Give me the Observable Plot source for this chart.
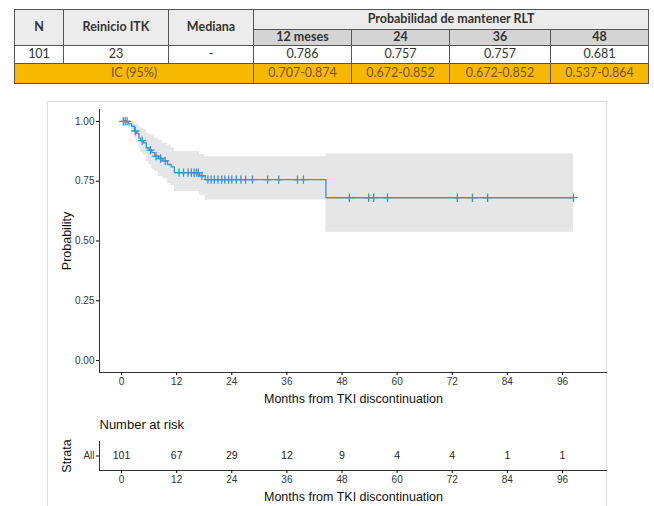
<!DOCTYPE html>
<html><head><meta charset="utf-8">
<script src="https://cdn.jsdelivr.net/npm/d3@7"></script>
<script src="https://cdn.jsdelivr.net/npm/@observablehq/plot@0.6"></script>
<style>
body{margin:0;width:654px;height:506px;position:relative;overflow:hidden;background:#fff;}
#tbl{position:absolute;left:14px;top:9px;width:634px;border-collapse:collapse;font-family:Lato,"Open Sans",sans-serif;font-size:12.5px;color:#333;table-layout:fixed;}
#tbl td{border:1px solid #555;text-align:center;padding:0;line-height:1;white-space:nowrap;}
#frame{position:absolute;left:47px;top:101px;width:560px;height:420px;border:1px solid #ddd;box-sizing:border-box;}
#main{position:absolute;left:0;top:100px;}
#risk{position:absolute;left:0;top:408px;}
svg{font-family:"Liberation Sans",Arial,sans-serif;}
g[aria-label="x-axis label"] text, g[aria-label="y-axis label"] text{font-size:12.5px;fill:#111;}
g[aria-label="x-axis tick label"] text, g[aria-label="y-axis tick label"] text{font-size:10px;fill:#333;}
</style></head>
<body>
<table id="tbl"></table>
<div id="frame"></div>
<div id="main"></div>
<div id="risk"></div>
<script>
// ---- table data ----
const headCols = ["N", "Reinicio ITK", "Mediana"];
const probTitle = "Probabilidad de mantener RLT";
const probCols = ["12 meses", "24", "36", "48"];
const rowValues = ["101", "23", "-"];
const probValues = ["0.786", "0.757", "0.757", "0.681"];
const ciLabel = "IC (95%)";
const ciValues = ["0.707-0.874", "0.672-0.852", "0.672-0.852", "0.537-0.864"];

// ---- Kaplan-Meier curve ----
const stepTime = [0, 1.5, 2.2, 2.8, 3.3, 3.8, 4.2, 4.8, 5.4, 6.0, 6.6, 7.2, 8.0, 9.0, 10.0, 10.8, 11.5, 17.0, 18.2, 44.5, 98.4];
const stepSurv = [1.0, 0.99, 0.98, 0.96, 0.95, 0.93, 0.92, 0.91, 0.89, 0.88, 0.87, 0.855, 0.845, 0.835, 0.82, 0.81, 0.786, 0.772, 0.757, 0.681, 0.681];
const stepLower = [1.0, 0.97, 0.96, 0.93, 0.91, 0.89, 0.87, 0.86, 0.83, 0.82, 0.80, 0.79, 0.77, 0.76, 0.74, 0.73, 0.707, 0.69, 0.672, 0.537, 0.537];
const stepUpper = [1.0, 1.0, 1.0, 0.99, 0.99, 0.98, 0.97, 0.965, 0.95, 0.945, 0.94, 0.93, 0.92, 0.91, 0.90, 0.89, 0.874, 0.862, 0.852, 0.864, 0.864];

const censorTime = [0.4, 0.8, 1.2, 3.0, 4.5, 6.3, 7.5, 8.5, 9.5, 12.5, 13.5, 14.5, 15.2, 15.8, 16.3, 16.7, 17.5, 18.8, 19.5, 20.2, 21.0, 21.8, 22.5, 23.3, 24.0, 25.0, 26.0, 27.0, 28.5, 31.8, 34.2, 38.3, 39.6, 49.6, 53.8, 54.9, 57.9, 73.1, 76.4, 79.7, 98.4];
const censorSurv = [1.0, 1.0, 1.0, 0.96, 0.92, 0.88, 0.855, 0.845, 0.835, 0.786, 0.786, 0.786, 0.786, 0.786, 0.786, 0.786, 0.772, 0.757, 0.757, 0.757, 0.757, 0.757, 0.757, 0.757, 0.757, 0.757, 0.757, 0.757, 0.757, 0.757, 0.757, 0.757, 0.757, 0.681, 0.681, 0.681, 0.681, 0.681, 0.681, 0.681, 0.681];

// ---- number at risk ----
const riskTime = [0, 12, 24, 36, 48, 60, 72, 84, 96];
const riskN = [101, 67, 29, 12, 9, 4, 4, 1, 1];
const xTicks = [0, 12, 24, 36, 48, 60, 72, 84, 96];
const yTicks = [0, 0.25, 0.5, 0.75, 1];

// ---- build table ----
const tbl = document.getElementById("tbl");
const colW = [49, 105, 85, 98, 98, 101, 98];
const cg = document.createElement("colgroup");
colW.forEach(w => { const c = document.createElement("col"); c.style.width = w + "px"; cg.appendChild(c); });
tbl.appendChild(cg);
function td(tr, text, opts = {}) {
  const c = document.createElement("td");
  c.textContent = text;
  if (opts.rs) c.rowSpan = opts.rs;
  if (opts.cs) c.colSpan = opts.cs;
  Object.assign(c.style, opts.style || {});
  tr.appendChild(c);
  return c;
}
const hdr = {background:"#ececec", fontWeight:"bold", color:"#333"};
let tr = document.createElement("tr"); tr.style.height = "20px";
headCols.forEach(h => td(tr, h, {rs:2, style:hdr}));
td(tr, probTitle, {cs:4, style:hdr});
tbl.appendChild(tr);
tr = document.createElement("tr"); tr.style.height = "16px";
probCols.forEach(h => td(tr, h, {style:{background:"#d4d4d4", fontWeight:"bold", color:"#333"}}));
tbl.appendChild(tr);
tr = document.createElement("tr"); tr.style.height = "18px";
rowValues.concat(probValues).forEach(v => td(tr, v, {style:{background:"#fff"}}));
tbl.appendChild(tr);
tr = document.createElement("tr"); tr.style.height = "20px";
const ciStyle = {background:"#f7b900", color:"#7a5200"};
td(tr, ciLabel, {cs:3, style:ciStyle});
ciValues.forEach(v => td(tr, v, {style:ciStyle}));
tbl.appendChild(tr);

// ---- main KM plot ----
const km = stepTime.map((t, i) => ({t, s: stepSurv[i], lo: stepLower[i], hi: stepUpper[i]}));
const cens = censorTime.map((t, i) => ({t, s: censorSurv[i]}));
const col = "#3b93cc";
const xDom = [-4.8, 105.8];

const main = Plot.plot({
  width: 654, height: 310,
  marginLeft: 99, marginRight: 47, marginTop: 9, marginBottom: 38,
  style: {background: "transparent"},
  x: {domain: xDom},
  y: {domain: [-0.05, 1.05]},
  marks: [
    Plot.areaY(km, {x: "t", y1: "lo", y2: "hi", curve: "step-after", fill: "#e6e6e6"}),
    Plot.line(km, {x: "t", y: "s", curve: "step-after", stroke: col, strokeWidth: 1.3}),
    Plot.dot(cens, {x: "t", y: "s", symbol: "plus", stroke: col, strokeWidth: 1.3, r: 2.8}),
    Plot.ruleX([xDom[0]], {stroke: "#333"}),
    Plot.ruleY([-0.05], {stroke: "#333"}),
    Plot.axisX({ticks: xTicks, tickSize: 3, tickPadding: 2, label: "Months from TKI discontinuation", labelAnchor: "center", labelArrow: "none", labelOffset: 30}),
    Plot.axisY({ticks: yTicks, tickSize: 3, tickPadding: 2, tickFormat: d3.format(".2f"), label: "Probability", labelAnchor: "center", labelArrow: "none", labelOffset: 37})
  ]
});
document.getElementById("main").appendChild(main);

// ---- risk table ----
const riskRows = riskTime.map((t, i) => ({t, n: riskN[i]}));
const risk = Plot.plot({
  width: 654, height: 98,
  marginLeft: 99, marginRight: 47, marginTop: 33, marginBottom: 36,
  style: {background: "transparent"},
  x: {domain: xDom},
  y: {domain: [0, 1]},
  marks: [
    Plot.text(riskRows, {x: "t", y: 0.5, text: "n", fontSize: 10.5, fill: "#222"}),
    Plot.ruleX([xDom[0]], {stroke: "#333"}),
    Plot.ruleY([0], {stroke: "#333"}),
    Plot.axisX({ticks: xTicks, tickSize: 3, tickPadding: 2, label: "Months from TKI discontinuation", labelAnchor: "center", labelArrow: "none", labelOffset: 30}),
    Plot.axisY({ticks: [0.5], tickSize: 3, tickPadding: 2, tickFormat: () => "All", fill: "#888", label: "Strata", labelAnchor: "center", labelArrow: "none", labelOffset: 37}),
    Plot.text(["Number at risk"], {frameAnchor: "top-left", dy: -22, textAnchor: "start", fontSize: 13, fill: "#111"})
  ]
});
document.getElementById("risk").appendChild(risk);
</script>
</body></html>
